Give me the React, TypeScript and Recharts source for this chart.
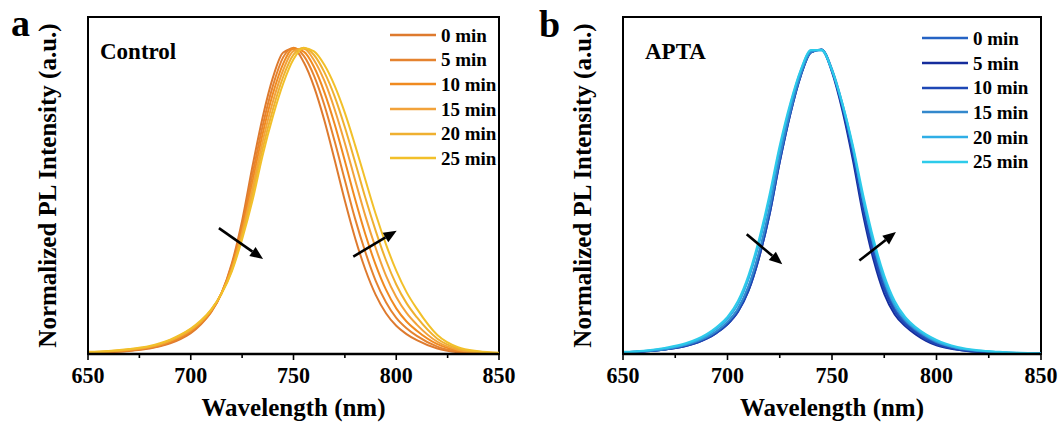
import React from 'react';
import { LineChart, Line, XAxis, YAxis, ReferenceArea, ReferenceLine, Legend } from 'recharts';

const SERIF = "'Liberation Serif', 'Times New Roman', serif";

// wavelength grids (nm)
const wavelengthsA = [650, 660, 670, 680, 685, 690, 695, 700, 705, 710, 715, 720, 725, 730, 735, 740, 745, 750, 755, 760, 765, 770, 775, 780, 785, 790, 795, 800, 805, 810, 820, 830, 840, 850];
const wavelengthsB = [650, 660, 670, 680, 690, 695, 700, 705, 710, 715, 720, 725, 730, 735, 740, 745, 750, 755, 760, 765, 770, 775, 780, 785, 790, 795, 800, 810, 820, 830, 840, 850];

const xTicks = [650, 675, 700, 725, 750, 775, 800, 825, 850];
const timeLabels = ['0 min', '5 min', '10 min', '15 min', '20 min', '25 min'];

// Control film, normalized PL
const ctrl0 = [0.003, 0.006, 0.010, 0.018, 0.025, 0.035, 0.049, 0.068, 0.097, 0.137, 0.199, 0.296, 0.435, 0.611, 0.773, 0.903, 0.984, 0.996, 0.952, 0.872, 0.763, 0.634, 0.500, 0.378, 0.275, 0.193, 0.133, 0.092, 0.065, 0.045, 0.018, 0.006, 0.002, 0.001];
const ctrl5 = [0.004, 0.007, 0.011, 0.020, 0.027, 0.038, 0.052, 0.072, 0.100, 0.139, 0.199, 0.290, 0.421, 0.585, 0.745, 0.876, 0.969, 1.000, 0.973, 0.908, 0.813, 0.695, 0.567, 0.441, 0.332, 0.239, 0.169, 0.118, 0.084, 0.059, 0.024, 0.008, 0.003, 0.001];
const ctrl10 = [0.004, 0.007, 0.013, 0.022, 0.030, 0.041, 0.055, 0.075, 0.103, 0.141, 0.199, 0.284, 0.408, 0.561, 0.719, 0.850, 0.948, 0.997, 0.987, 0.937, 0.855, 0.751, 0.630, 0.505, 0.390, 0.291, 0.210, 0.149, 0.106, 0.076, 0.032, 0.011, 0.004, 0.002];
const ctrl15 = [0.005, 0.008, 0.014, 0.023, 0.031, 0.043, 0.058, 0.078, 0.105, 0.143, 0.198, 0.278, 0.396, 0.539, 0.694, 0.824, 0.927, 0.989, 0.996, 0.959, 0.892, 0.799, 0.688, 0.567, 0.450, 0.346, 0.256, 0.186, 0.134, 0.096, 0.040, 0.014, 0.005, 0.002];
const ctrl20 = [0.006, 0.009, 0.015, 0.024, 0.033, 0.045, 0.061, 0.081, 0.107, 0.145, 0.198, 0.274, 0.385, 0.519, 0.671, 0.799, 0.905, 0.977, 1.000, 0.976, 0.920, 0.841, 0.740, 0.626, 0.509, 0.402, 0.306, 0.227, 0.166, 0.120, 0.050, 0.018, 0.007, 0.003];
const ctrl25 = [0.007, 0.010, 0.016, 0.026, 0.035, 0.047, 0.063, 0.083, 0.110, 0.146, 0.197, 0.270, 0.375, 0.500, 0.649, 0.776, 0.883, 0.962, 0.999, 0.988, 0.944, 0.876, 0.787, 0.681, 0.568, 0.457, 0.358, 0.272, 0.202, 0.148, 0.062, 0.022, 0.009, 0.004];

// APTA film, normalized PL
const apta0 = [0.006, 0.009, 0.015, 0.029, 0.054, 0.075, 0.104, 0.147, 0.219, 0.328, 0.469, 0.641, 0.790, 0.911, 0.985, 0.994, 0.927, 0.809, 0.661, 0.484, 0.338, 0.224, 0.148, 0.104, 0.075, 0.053, 0.035, 0.017, 0.008, 0.005, 0.003, 0.002];
const apta5 = [0.005, 0.008, 0.015, 0.026, 0.050, 0.070, 0.097, 0.138, 0.206, 0.312, 0.452, 0.627, 0.782, 0.907, 0.985, 0.993, 0.920, 0.794, 0.633, 0.450, 0.304, 0.196, 0.129, 0.091, 0.064, 0.043, 0.028, 0.014, 0.007, 0.004, 0.002, 0.001];
const apta10 = [0.005, 0.008, 0.015, 0.026, 0.050, 0.070, 0.097, 0.138, 0.206, 0.312, 0.452, 0.627, 0.782, 0.907, 0.985, 0.993, 0.924, 0.802, 0.647, 0.467, 0.321, 0.210, 0.139, 0.097, 0.070, 0.047, 0.032, 0.015, 0.007, 0.004, 0.002, 0.001];
const apta15 = [0.006, 0.009, 0.015, 0.029, 0.054, 0.075, 0.104, 0.147, 0.219, 0.328, 0.469, 0.641, 0.790, 0.911, 0.985, 0.994, 0.930, 0.817, 0.673, 0.500, 0.355, 0.238, 0.158, 0.111, 0.080, 0.058, 0.039, 0.019, 0.010, 0.005, 0.003, 0.002];
const apta20 = [0.006, 0.010, 0.018, 0.032, 0.060, 0.083, 0.114, 0.162, 0.243, 0.357, 0.500, 0.670, 0.811, 0.924, 0.991, 0.991, 0.924, 0.811, 0.670, 0.500, 0.357, 0.243, 0.162, 0.114, 0.083, 0.060, 0.042, 0.020, 0.011, 0.006, 0.003, 0.002];
const apta25 = [0.007, 0.011, 0.020, 0.035, 0.065, 0.089, 0.121, 0.173, 0.256, 0.372, 0.517, 0.681, 0.818, 0.927, 0.992, 0.992, 0.927, 0.818, 0.681, 0.517, 0.372, 0.256, 0.173, 0.121, 0.088, 0.064, 0.046, 0.023, 0.012, 0.007, 0.004, 0.002];

const controlColors = ['#DE7A2E', '#E5832F', '#F08A20', '#F2A23A', '#EFB030', '#F2C02A'];
const aptaColors = ['#2563C4', '#152C9C', '#1E47B5', '#3388CC', '#2FAEE6', '#2DCBEA'];

const buildRows = (grid: number[], series: number[][]) =>
  grid.map((w, i) => {
    const row: Record<string, number> = { w };
    series.forEach((s, k) => {
      row['s' + k] = s[i];
    });
    return row;
  });

const controlData = buildRows(wavelengthsA, [ctrl0, ctrl5, ctrl10, ctrl15, ctrl20, ctrl25]);
const aptaData = buildRows(wavelengthsB, [apta0, apta5, apta10, apta15, apta20, apta25]);

// arrow annotations, in data units
const controlArrows = [
  { from: [713.7, 0.411], to: [735.2, 0.31] },
  { from: [779.1, 0.318], to: [800.2, 0.402] },
];
const aptaArrows = [
  { from: [709.2, 0.391], to: [726.2, 0.293] },
  { from: [763.1, 0.305], to: [780.6, 0.398] },
];

const WaveTick = (props: any) => {
  const { x, y, payload } = props;
  const major = payload.value % 50 === 0;
  return (
    <g>
      <line x1={x} y1={y} x2={x} y2={y + (major ? 6 : 4)} stroke="#000" strokeWidth={1.6} />
      {major && (
        <text
          x={x}
          y={y + 29}
          textAnchor="middle"
          fontSize={23}
          textLength={33}
          lengthAdjust="spacingAndGlyphs"
          fontWeight="bold"
          fontFamily={SERIF}
          fill="#000"
        >
          {payload.value}
        </text>
      )}
    </g>
  );
};

const ArrowShape = (props: any) => {
  const { x1, y1, x2, y2 } = props;
  const ang = Math.atan2(y2 - y1, x2 - x1);
  const len = 13;
  const half = 5.5;
  const bx = x2 - len * Math.cos(ang);
  const by = y2 - len * Math.sin(ang);
  const px = -Math.sin(ang) * half;
  const py = Math.cos(ang) * half;
  return (
    <g>
      <line x1={x1} y1={y1} x2={bx} y2={by} stroke="#000" strokeWidth={2.6} />
      <polygon points={`${x2},${y2} ${bx + px},${by + py} ${bx - px},${by - py}`} fill="#000" />
    </g>
  );
};

const makeLegend = (colors: string[]) => () => (
  <div style={{ fontFamily: SERIF, fontWeight: 'bold', fontSize: 19, color: '#000' }}>
    {timeLabels.map((t, k) => (
      <div key={t} style={{ display: 'flex', alignItems: 'center', height: 24.7 }}>
        <svg width={46} height={4} style={{ display: 'block' }}>
          <line x1={0} y1={2} x2={46} y2={2} stroke={colors[k]} strokeWidth={2.6} />
        </svg>
        <span style={{ marginLeft: 5, lineHeight: 1, whiteSpace: 'nowrap' }}>{t}</span>
      </div>
    ))}
  </div>
);

type PanelProps = {
  data: Record<string, number>[];
  colors: string[];
  arrows: { from: number[]; to: number[] }[];
  left: number;
  width: number;
  rightMargin: number;
  legendLeft: number;
  legendTop: number;
};

const Panel = ({ data, colors, arrows, left, width, rightMargin, legendLeft, legendTop }: PanelProps) => (
  <div style={{ position: 'absolute', left, top: 0 }}>
    <LineChart width={width} height={423} data={data} margin={{ top: 17, right: rightMargin, bottom: 0, left: 0 }}>
      <XAxis
        dataKey="w"
        type="number"
        domain={[650, 850]}
        ticks={xTicks}
        interval={0}
        tickSize={0}
        tickMargin={0}
        tickLine={false}
        tick={(p: any) => <WaveTick {...p} />}
        height={69}
        allowDataOverflow
        axisLine={{ stroke: '#000', strokeWidth: 2.5 }}
        label={{
          value: 'Wavelength (nm)',
          position: 'insideBottom',
          offset: 7,
          fontSize: 25,
          fontWeight: 'bold',
          fontFamily: SERIF,
          fill: '#000',
        }}
      />
      <YAxis
        type="number"
        domain={[0, 1.1]}
        allowDataOverflow
        tick={false}
        tickLine={false}
        width={88}
        axisLine={{ stroke: '#000', strokeWidth: 2 }}
        label={{
          value: 'Normalized PL Intensity (a.u.)',
          angle: -90,
          position: 'insideLeft',
          offset: 47,
          fontSize: 25,
          fontWeight: 'bold',
          fontFamily: SERIF,
          fill: '#000',
          style: { textAnchor: 'middle' },
        }}
      />
      <ReferenceArea x1={650} x2={850} y1={0} y2={1.1} fill="none" stroke="#000" strokeWidth={2} />
      {timeLabels.map((t, k) => (
        <Line
          key={t}
          type="monotone"
          dataKey={'s' + k}
          name={t}
          stroke={colors[k]}
          strokeWidth={2}
          dot={false}
          isAnimationActive={false}
        />
      ))}
      {arrows.map((a, i) => (
        <ReferenceLine
          key={i}
          segment={[
            { x: a.from[0], y: a.from[1] },
            { x: a.to[0], y: a.to[1] },
          ]}
          stroke="#000"
          shape={ArrowShape}
        />
      ))}
      <Legend
        layout="vertical"
        align="center"
        verticalAlign="middle"
        content={makeLegend(colors)}
        wrapperStyle={{ left: legendLeft, top: legendTop, width: 140, height: 'auto', bottom: 'auto', right: 'auto' }}
      />
    </LineChart>
  </div>
);

export default function App() {
  return (
    <div style={{ position: 'absolute', left: 0, top: 0, width: 1061, height: 423, background: '#fff', overflow: 'hidden' }}>
      <Panel
        data={controlData}
        colors={controlColors}
        arrows={controlArrows}
        left={0}
        width={530}
        rightMargin={31}
        legendLeft={390}
        legendTop={22.7}
      />
      <Panel
        data={aptaData}
        colors={aptaColors}
        arrows={aptaArrows}
        left={535}
        width={526}
        rightMargin={20}
        legendLeft={387}
        legendTop={26}
      />
      <svg width={1061} height={423} style={{ position: 'absolute', left: 0, top: 0, pointerEvents: 'none' }}>
        <g fontFamily={SERIF} fontWeight="bold" fill="#000">
          <text x={11} y={36} fontSize={38}>a</text>
          <text x={539} y={37} fontSize={38}>b</text>
          <text x={100} y={59} fontSize={23}>Control</text>
          <text x={645} y={59} fontSize={23}>APTA</text>
        </g>
      </svg>
    </div>
  );
}
